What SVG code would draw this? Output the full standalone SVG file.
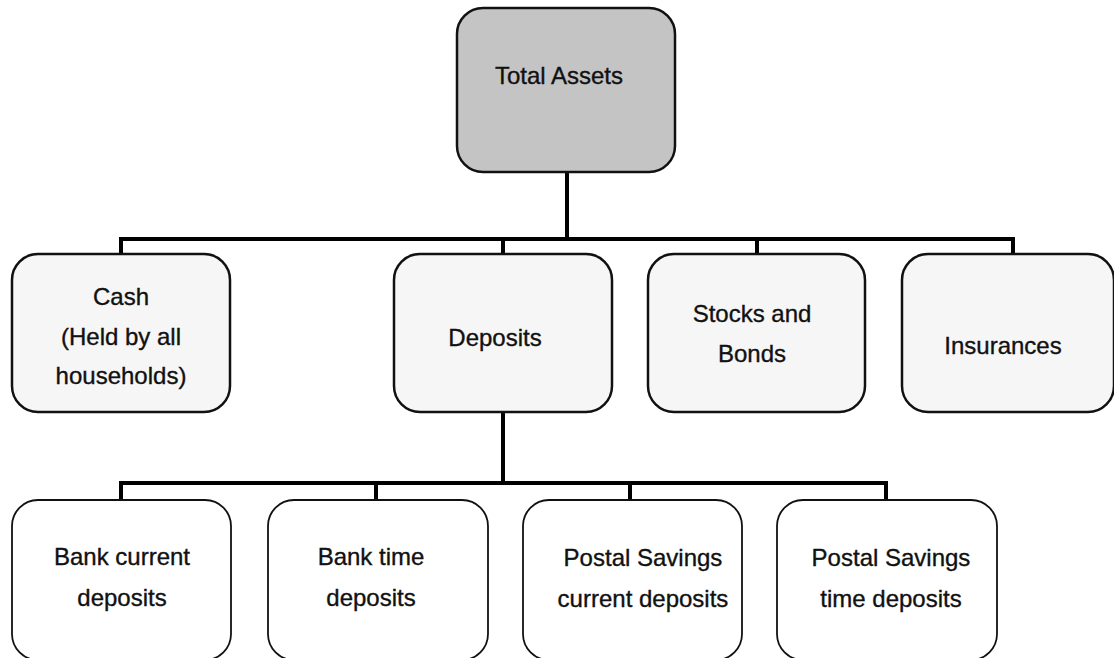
<svg xmlns="http://www.w3.org/2000/svg" width="1114" height="658" viewBox="0 0 1114 658">
<style>
  text { font-family: "Liberation Sans", Arial, sans-serif; font-size: 24px; fill: #111; stroke: #111; stroke-width: 0.35; text-anchor: middle; }
  .top { fill: #c4c4c4; stroke: #111; stroke-width: 2.5; }
  .mid { fill: #f6f6f6; stroke: #111; stroke-width: 2.5; }
  .low { fill: #ffffff; stroke: #111; stroke-width: 1.8; }
  .conn { fill: none; stroke: #000; stroke-width: 4; stroke-linecap: square; }
</style>
<rect width="1114" height="658" fill="#ffffff"/>
<g id="connectors">
  <path class="conn" d="M567 172 V239 M121 239 H1013 M121 239 V254 M503 239 V254 M757 239 V254 M1013 239 V254"/>
  <path class="conn" d="M503 412 V483 M121 483 H886 M121 483 V500 M376 483 V500 M630 483 V500 M886 483 V500"/>
</g>
<g id="total-assets">
  <rect class="top" x="457" y="8" width="218" height="164" rx="26"/>
  <text x="559" y="84">Total Assets</text>
</g>
<g id="cash">
  <rect class="mid" x="12" y="254" width="218" height="158" rx="26"/>
  <text x="121" y="305">Cash</text>
  <text x="121" y="345">(Held by all</text>
  <text x="121" y="384">households)</text>
</g>
<g id="deposits">
  <rect class="mid" x="394" y="254" width="218" height="158" rx="26"/>
  <text x="495" y="346">Deposits</text>
</g>
<g id="stocks-bonds">
  <rect class="mid" x="648" y="254" width="217" height="158" rx="26"/>
  <text x="752" y="322">Stocks and</text>
  <text x="752" y="362">Bonds</text>
</g>
<g id="insurances">
  <rect class="mid" x="902" y="254" width="212" height="158" rx="26"/>
  <text x="1003" y="354">Insurances</text>
</g>
<g id="bank-current">
  <rect class="low" x="12" y="500" width="219" height="160" rx="26"/>
  <text x="122" y="565">Bank current</text>
  <text x="122" y="606">deposits</text>
</g>
<g id="bank-time">
  <rect class="low" x="268" y="500" width="220" height="160" rx="26"/>
  <text x="371" y="565">Bank time</text>
  <text x="371" y="606">deposits</text>
</g>
<g id="postal-current">
  <rect class="low" x="523" y="500" width="219" height="160" rx="26"/>
  <text x="643" y="566">Postal Savings</text>
  <text x="643" y="607">current deposits</text>
</g>
<g id="postal-time">
  <rect class="low" x="777" y="500" width="220" height="160" rx="26"/>
  <text x="891" y="566">Postal Savings</text>
  <text x="891" y="607">time deposits</text>
</g>
</svg>
